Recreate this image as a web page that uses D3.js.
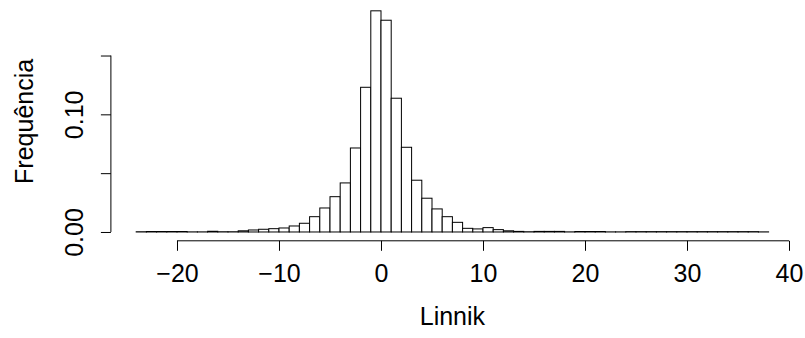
<!DOCTYPE html>
<html>
<head>
<meta charset="utf-8">
<title>Linnik</title>
<style>
  * { margin: 0; padding: 0; }
  body { background: #fff; }
  svg { display: block; font-family: "Liberation Sans", Arial, Helvetica, sans-serif; }
</style>
<script src="https://cdn.jsdelivr.net/npm/d3@7"></script>
</head>
<body>
<svg id="chart" width="805" height="338"></svg>
<script>
// bins of width 1, left edges from -24 to 37
const binWidth = 1;
const binLeft = d3.range(-24, 38, binWidth);
// density per bin
const density = [
  0.0002, 0.0004, 0.0004, 0.0004, 0.0004, 0.0001, 0.0001, 0.0006, 0.0002, 0.0002,
  0.0010, 0.0017, 0.0023, 0.0028, 0.0034, 0.0051, 0.0074, 0.0130, 0.0204, 0.0300,
  0.0417, 0.0714, 0.1230, 0.1880, 0.1800, 0.1137, 0.0720, 0.0440, 0.0287, 0.0196,
  0.0130, 0.0082, 0.0031, 0.0026, 0.0037, 0.0020, 0.0010, 0.0005, 0.0002, 0.0005,
  0.0005, 0.0005, 0.0001, 0.0004, 0.0004, 0.0004, 0.0001, 0.0001, 0.0003, 0.0003,
  0.0003, 0.0003, 0.0003, 0.0003, 0.0003, 0.0003, 0.0003, 0.0003, 0.0003, 0.0003,
  0.0003, 0.0001
];
const xTicks = [-20, -10, 0, 10, 20, 30, 40];
const yTicks = [0, 0.05, 0.10, 0.15];
const yTickLabels = ["0.00", "", "0.10", ""];
const xTitle = "Linnik";
const yTitle = "Frequência";

const svg = d3.select("#chart");
const fontSize = 25;

// R style: range extended by 4%
const x = d3.scaleLinear().domain([-26.48, 40.48]).range([110.9, 793.9]);
const y = d3.scaleLinear().domain([-0.0075, 0.1955]).range([240.8, 2]);
const axisY = y(-0.0075);
const axisX = x(-26.48);

svg.append("rect").attr("width", 805).attr("height", 338).attr("fill", "#fff");

// bars
svg.append("g")
  .selectAll("rect")
  .data(binLeft)
  .join("rect")
  .attr("x", d => x(d))
  .attr("width", d => x(d + binWidth) - x(d))
  .attr("y", (d, i) => y(density[i]))
  .attr("height", (d, i) => y(0) - y(density[i]))
  .attr("fill", "#fff")
  .attr("stroke", "#000")
  .attr("stroke-width", 1);

// x axis
const gx = svg.append("g")
  .attr("transform", `translate(0,${axisY})`)
  .call(d3.axisBottom(x).tickValues(xTicks).tickSize(10).tickFormat(d3.format("d")));
gx.select(".domain").remove();
gx.append("line")
  .attr("x1", x(xTicks[0])).attr("x2", x(xTicks[xTicks.length - 1]))
  .attr("stroke", "#000");
gx.selectAll(".tick line").attr("stroke", "#000");
gx.selectAll(".tick text")
  .attr("y", 41).attr("dy", null)
  .attr("fill", "#000")
  .style("font-size", fontSize + "px")
  .style("font-family", "'Liberation Sans', Arial, sans-serif");

// y axis
const gy = svg.append("g")
  .attr("transform", `translate(${axisX},0)`)
  .call(d3.axisLeft(y).tickValues(yTicks).tickSize(10).tickFormat((d, i) => yTickLabels[i]));
gy.select(".domain").remove();
gy.append("line")
  .attr("y1", y(yTicks[0])).attr("y2", y(yTicks[yTicks.length - 1]))
  .attr("stroke", "#000");
gy.selectAll(".tick line").attr("stroke", "#000");
gy.selectAll(".tick text")
  .attr("x", null).attr("dy", null)
  .attr("text-anchor", "middle")
  .attr("transform", "translate(-28,0) rotate(-90)")
  .attr("fill", "#000")
  .style("font-size", fontSize + "px")
  .style("font-family", "'Liberation Sans', Arial, sans-serif");

// titles
svg.append("text")
  .attr("x", (axisX + 793.9) / 2)
  .attr("y", 325)
  .attr("text-anchor", "middle")
  .style("font-size", fontSize + "px")
  .text(xTitle);

svg.append("text")
  .attr("transform", `translate(33,${(y(-0.0075) + y(0.1955)) / 2}) rotate(-90)`)
  .attr("text-anchor", "middle")
  .style("font-size", fontSize + "px")
  .text(yTitle);
</script>
</body>
</html>
